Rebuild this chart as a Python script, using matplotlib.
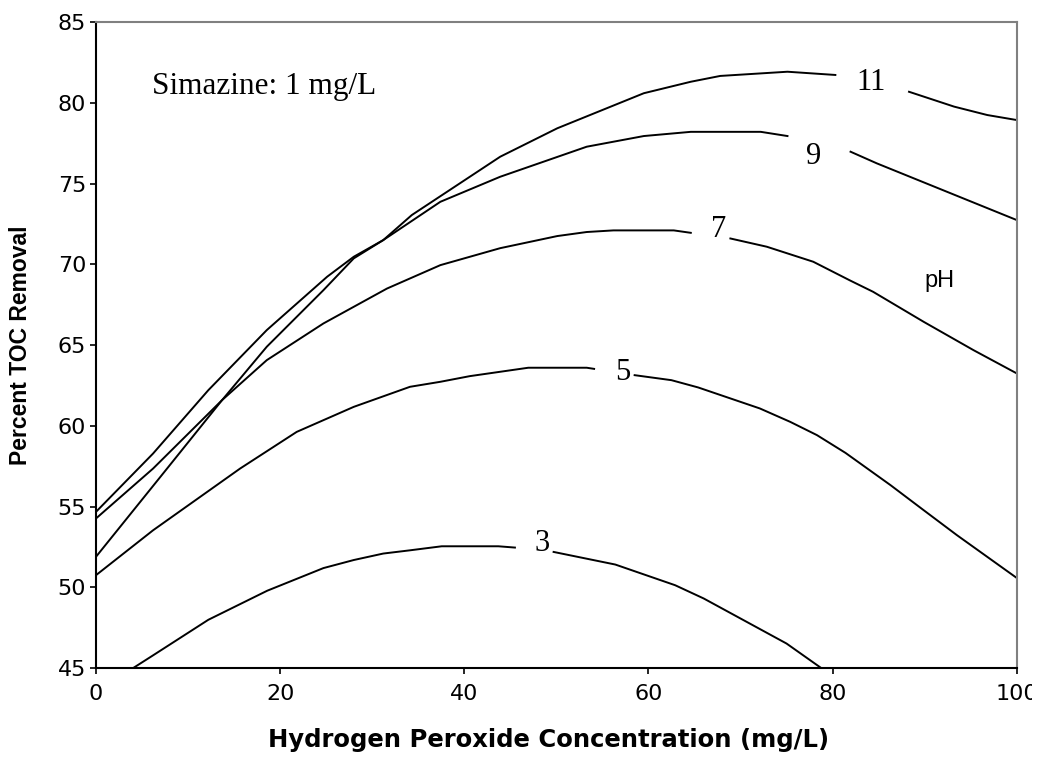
import numpy as np
import matplotlib
matplotlib.use("Agg")
import matplotlib.pyplot as plt
from matplotlib.transforms import Bbox, TransformedBbox

nan = np.nan

# pH 11
x_ph11 = [0, 7.0, 13.7, 18.55, 24.7, 28.0, 31.2, 34.3, 43.9, 50.1, 59.5, 64.6, 67.8, 75.1, 80.3,
          nan, 88.3, 93.2, 96.8, 100]
y_ph11 = [51.9, 56.85, 61.6, 64.9, 68.4, 70.37, 71.5, 73.05, 76.66, 78.42, 80.59, 81.3, 81.66, 81.92, 81.72,
          nan, 80.68, 79.76, 79.24, 78.93]

# pH 9
x_ph9 = [0, 6.2, 12.2, 18.55, 25.1, 28.0, 31.2, 37.4, 43.9, 53.3, 59.5, 64.6, 72.2, 75.1,
         nan, 81.95, 84.8, 100]
y_ph9 = [54.68, 58.29, 62.21, 65.93, 69.23, 70.47, 71.5, 73.87, 75.42, 77.28, 77.94, 78.2, 78.2, 77.94,
         nan, 76.97, 76.25, 72.74]

# pH 7
x_ph7 = [0, 6.2, 13.7, 18.55, 24.7, 31.6, 37.4, 43.9, 50.1, 53.3, 56.2, 62.75, 64.6,
         nan, 68.9, 72.85, 77.9, 81.9, 84.4, 89.9, 95.3, 100]
y_ph7 = [54.27, 57.36, 61.6, 64.07, 66.34, 68.5, 69.95, 71.0, 71.75, 72.0, 72.1, 72.1, 71.95,
         nan, 71.6, 71.09, 70.16, 69.0, 68.3, 66.44, 64.69, 63.25]

# pH 5
x_ph5 = [0, 6.2, 15.65, 21.8, 28.0, 34.1, 37.4, 40.6, 46.95, 53.3, 54.1,
         nan, 58.5, 62.5, 65.4, 72.1, 75.4, 78.3, 81.4, 86.3, 89.9, 93.5, 100]
y_ph5 = [50.76, 53.54, 57.36, 59.63, 61.18, 62.42, 62.73, 63.08, 63.6, 63.6, 63.53,
         nan, 63.14, 62.83, 62.38, 61.08, 60.25, 59.43, 58.33, 56.33, 54.78, 53.24, 50.59]

# pH 3
x_ph3 = [4.0, 6.2, 12.2, 18.6, 24.7, 28.0, 31.2, 34.1, 37.55, 43.7, 45.5,
         nan, 49.7, 56.4, 62.9, 66.0, 75.0, 78.8]
y_ph3 = [45.0, 45.8, 48.0, 49.8, 51.2, 51.7, 52.1, 52.3, 52.55, 52.55, 52.47,
         nan, 52.2, 51.42, 50.14, 49.32, 46.53, 45.0]

series_x = [x_ph11, x_ph9, x_ph7, x_ph5, x_ph3]
series_y = [y_ph11, y_ph9, y_ph7, y_ph5, y_ph3]

contour_labels = ["11", "9", "7", "5", "3"]
label_x = [84.2, 77.96, 67.6, 57.2, 48.45]
label_y = [81.25, 76.66, 72.18, 63.3, 52.72]

x_ticks = [0, 20, 40, 60, 80, 100]
y_ticks = [45, 50, 55, 60, 65, 70, 75, 80, 85]

W, H = 1041, 760
fig = plt.figure(figsize=(W / 100, H / 100), dpi=100)
ax = fig.add_axes([0.0922, 0.1207, 0.9767 - 0.0922, 0.9711 - 0.1207])

for xs, ys in zip(series_x, series_y):
    ax.plot(xs, ys, color="black", lw=1.4, solid_joinstyle="miter")

serif = ["Liberation Serif", "DejaVu Serif"]
sans = ["Liberation Sans", "DejaVu Sans"]
wide = ["DejaVu Sans"]

for t, lx, ly in zip(contour_labels, label_x, label_y):
    ax.text(lx, ly, t, ha="center", va="center", fontsize=22, family=serif)

ax.text(6.05, 80.54, "Simazine: 1 mg/L", ha="left", va="baseline", fontsize=22.5, family=serif)
ax.text(90.0, 68.6, "pH", ha="left", va="baseline", fontsize=17, family=sans)

ax.set_xlim(0, 100)
ax.set_ylim(45, 85)
ax.set_xticks(x_ticks)
ax.set_yticks(y_ticks)
ax.tick_params(axis="both", direction="out", length=4.5, width=1.2, color="black", labelsize=16)
ax.tick_params(axis="x", pad=7)
ax.tick_params(axis="y", pad=2.5)
for lab in ax.get_xticklabels() + ax.get_yticklabels():
    lab.set_family(wide)

# the last x tick label is cut by the figure edge in the original
clip = TransformedBbox(Bbox([[0, 0], [1032 / W, 1]]), fig.transFigure)
last = ax.get_xticklabels()[-1]
last.set_clip_box(clip)
last.set_clip_on(True)

for s in ["left", "bottom"]:
    ax.spines[s].set_color("black")
    ax.spines[s].set_linewidth(1.5)
for s in ["top", "right"]:
    ax.spines[s].set_color("#808080")
    ax.spines[s].set_linewidth(1.5)

ax.set_xlabel("Hydrogen Peroxide Concentration (mg/L)", fontsize=17.5, fontweight="bold",
              family=wide)
ax.set_ylabel("Percent TOC Removal", fontsize=16.5, fontweight="bold", family=sans)
ax.xaxis.set_label_coords(0.492, -0.093)
ax.yaxis.set_label_coords(-0.0695, 0.5)

fig.savefig("out.png", dpi=100)
